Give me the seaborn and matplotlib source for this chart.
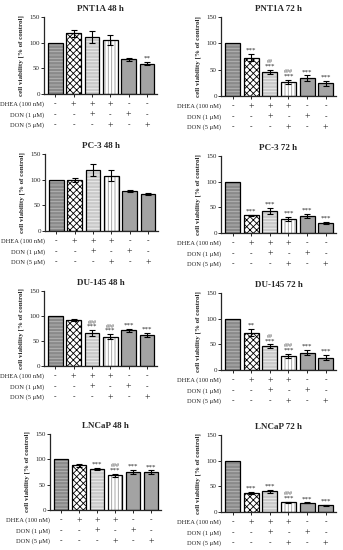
import matplotlib
matplotlib.use("Agg")
import matplotlib.pyplot as plt
from matplotlib.patches import Rectangle
import numpy as np
import pandas as pd
import seaborn as sns

# treatment groups (x positions) and the table under each panel
groups = ["control", "DHEA", "DHEA+DON1", "DHEA+DON5", "DON1", "DON5"]
row_labels = ["DHEA (100 nM)", "DON (1 \u03bcM)", "DON (5 \u03bcM)"]
dhea_row = ["-", "+", "+", "+", "-", "-"]
don1_row = ["-", "-", "+", "-", "+", "-"]
don5_row = ["-", "-", "-", "+", "-", "+"]

titles = ["PNT1A 48 h", "PNT1A 72 h", "PC-3 48 h", "PC-3 72 h",
          "DU-145 48 h", "DU-145 72 h", "LNCaP 48 h", "LNCaP 72 h"]

pnt1a_48_mean = [100, 118, 111, 105, 68, 59]
pnt1a_48_err = [0, 7, 12, 10, 3, 3]
pnt1a_48_star = ["", "", "", "", "", "**"]
pnt1a_48_hash = ["", "", "", "", "", ""]

pnt1a_72_mean = [100, 73, 46, 27, 34, 24]
pnt1a_72_err = [0, 7, 4, 4, 5, 5]
pnt1a_72_star = ["", "***", "***", "***", "***", "***"]
pnt1a_72_hash = ["", "", "##", "###", "", ""]

pc3_48_mean = [100, 99, 119, 108, 77, 72]
pc3_48_err = [0, 4, 12, 11, 2, 2]
pc3_48_star = ["", "", "", "", "", ""]
pc3_48_hash = ["", "", "", "", "", ""]

pc3_72_mean = [100, 35, 43, 27, 33, 20]
pc3_72_err = [0, 1, 6, 4, 4, 2]
pc3_72_star = ["", "***", "***", "***", "***", "***"]
pc3_72_hash = ["", "", "", "", "", ""]

du145_48_mean = [100, 93, 66, 59, 72, 63]
du145_48_err = [0, 2, 6, 5, 3, 4]
du145_48_star = ["", "", "***", "***", "***", "***"]
du145_48_hash = ["", "", "###", "###", "", ""]

du145_72_mean = [100, 73, 46, 27, 34, 24]
du145_72_err = [0, 7, 4, 4, 5, 5]
du145_72_star = ["", "**", "***", "***", "***", "***"]
du145_72_hash = ["", "", "##", "###", "", ""]

lncap_48_mean = [100, 88, 81, 69, 75, 75]
lncap_48_err = [0, 3, 2, 3, 4, 3]
lncap_48_star = ["", "", "***", "***", "***", "***"]
lncap_48_hash = ["", "", "", "###", "", ""]

lncap_72_mean = [100, 37, 40, 19, 18, 13]
lncap_72_err = [0, 2, 3, 1, 1, 1]
lncap_72_star = ["", "***", "***", "***", "***", "***"]
lncap_72_hash = ["", "", "", "###", "", ""]

panels = [
    (pnt1a_48_mean, pnt1a_48_err, pnt1a_48_star, pnt1a_48_hash),
    (pnt1a_72_mean, pnt1a_72_err, pnt1a_72_star, pnt1a_72_hash),
    (pc3_48_mean, pc3_48_err, pc3_48_star, pc3_48_hash),
    (pc3_72_mean, pc3_72_err, pc3_72_star, pc3_72_hash),
    (du145_48_mean, du145_48_err, du145_48_star, du145_48_hash),
    (du145_72_mean, du145_72_err, du145_72_star, du145_72_hash),
    (lncap_48_mean, lncap_48_err, lncap_48_star, lncap_48_hash),
    (lncap_72_mean, lncap_72_err, lncap_72_star, lncap_72_hash),
]

# bar fill styles: facecolor, hatch, hatch colour
styles = [
    ("#8a8a8a", "-----", "#b8b8b8"),
    ("white", "xxxxx", "black"),
    ("#c9c9c9", "-----", "#efefef"),
    ("white", "|||||", "#9a9a9a"),
    ("#a3a3a3", "", "#a3a3a3"),
    ("#a3a3a3", "", "#a3a3a3"),
]

sns.set_theme(style="ticks")
plt.rcParams["font.family"] = ["Liberation Serif", "DejaVu Serif"]
plt.rcParams["hatch.linewidth"] = 0.6

W, H = 343, 550
fig = plt.figure(figsize=(W / 100, H / 100), dpi=100)

# axes boxes in pixels: left, top, width, bottom
boxes = [
    (44, 17, 113, 94), (221, 17, 115, 96),
    (45, 154, 113, 231), (221, 156, 115, 233),
    (44, 291, 113, 366), (221, 293, 115, 370),
    (50, 434, 111, 510), (221, 435, 115, 512),
]

for k, (mean, err, star, hsh) in enumerate(panels):
    l, t, w, b = boxes[k]
    ax = fig.add_axes([l / W, 1 - b / H, w / W, (b - t) / H])
    df = pd.DataFrame({"group": groups, "viability": mean})
    sns.barplot(data=df, x="group", y="viability", ax=ax, errorbar=None,
                width=0.8, order=groups)
    for i, p in enumerate(ax.patches):
        fc, hatch, hc = styles[i]
        p.set_facecolor(fc)
        p.set_hatch(hatch)
        p.set_edgecolor(hc)
        p.set_linewidth(0)
        ax.add_patch(Rectangle((p.get_x(), 0), p.get_width(), p.get_height(),
                               fill=False, edgecolor="black", linewidth=0.9, zorder=3))
    x = np.arange(len(groups))
    e = np.array(err)
    m = np.array(mean)
    mask = e > 0
    ax.errorbar(x[mask], m[mask], yerr=e[mask], fmt="none", ecolor="black",
                elinewidth=0.8, capsize=2.5, capthick=0.8, zorder=4)
    for i in range(len(groups)):
        top = mean[i] + err[i]
        if star[i]:
            ax.text(i, top + 2, star[i], ha="center", va="bottom", fontsize=5)
        if hsh[i]:
            ax.text(i, top + 11, hsh[i], ha="center", va="bottom", fontsize=4.3,
                    color="#555555")
    ax.set_xlim(-0.62, 5.55)
    ax.set_ylim(0, 150)
    ax.set_yticks([0, 50, 100, 150])
    ax.tick_params(axis="y", labelsize=5, length=2, width=0.7, pad=1)
    ax.tick_params(axis="x", labelbottom=False, length=2, width=0.7)
    ax.set_xlabel("")
    ax.set_ylabel("cell viability [% of control]", fontsize=5, fontweight="bold", labelpad=4)
    ax.set_title(titles[k], fontsize=6.5, fontweight="bold", pad=4)
    for s in ["left", "bottom"]:
        ax.spines[s].set_linewidth(0.9)
    sns.despine(ax=ax)

    # treatment table under the axis
    for r, row in enumerate([dhea_row, don1_row, don5_row]):
        dy = -10.5 * (r + 1)
        ax.annotate(row_labels[r], xy=(0, 0), xycoords="axes fraction",
                    xytext=(0, dy), textcoords="offset pixels",
                    ha="right", va="center", fontsize=4.7, annotation_clip=False)
        for i, sign in enumerate(row):
            ax.annotate(sign, xy=(i, 0), xycoords=("data", "axes fraction"),
                        xytext=(0, dy), textcoords="offset pixels",
                        ha="center", va="center",
                        fontsize=7 if sign == "+" else 5.5, annotation_clip=False)

fig.savefig("out.png", dpi=100, facecolor="white")
